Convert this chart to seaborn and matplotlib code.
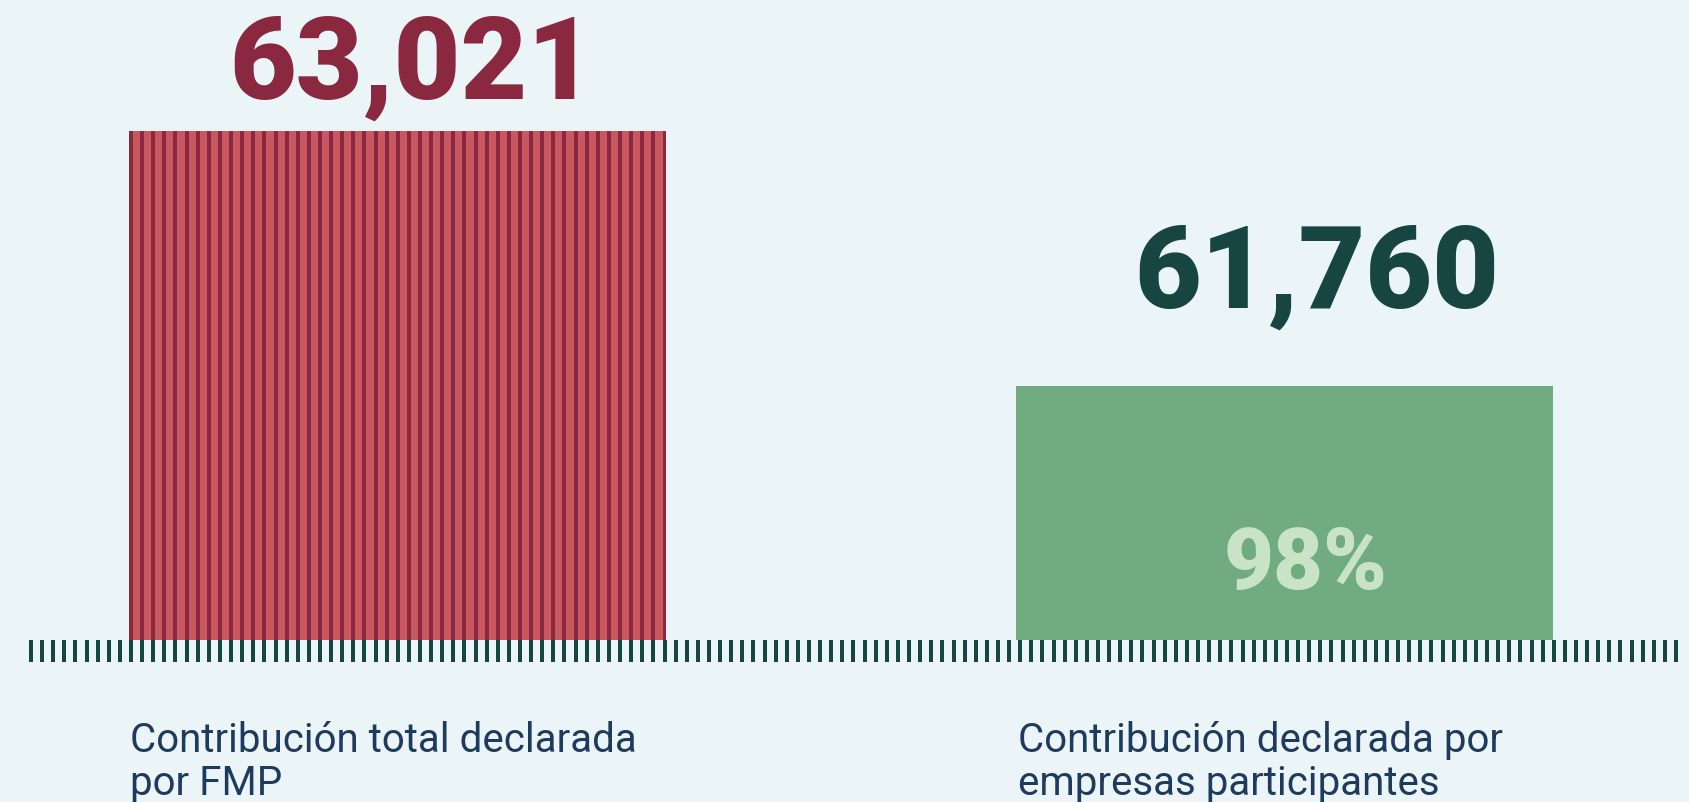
import numpy as np
import matplotlib
matplotlib.use("Agg")
import matplotlib.pyplot as plt
import matplotlib.transforms as mtransforms
import seaborn as sns

# Data
categories = ["Contribución total declarada\npor FMP",
              "Contribución declarada por\nempresas participantes"]
values = [63021, 61760]

# Styling
BG = "#EBF5F8"
RED_LIGHT = "#C85760"
RED_DARK = "#8A2840"
GREEN = "#70AC80"
GREEN_TEXT = "#C8E3C5"
TEAL = "#174541"
NAVY = "#1E3A5C"
bar_colors = [RED_LIGHT, GREEN]
value_colors = [RED_DARK, TEAL]

sns.set_theme(style="white")
plt.rcParams["font.family"] = ["Roboto", "DejaVu Sans"]

W, H, DPI = 1689, 802, 100
PT = 72 / DPI  # points per pixel
fig = plt.figure(figsize=(W / DPI, H / DPI), dpi=DPI, facecolor=BG)
base_px = 640
ax = fig.add_axes([0, (H - base_px) / H, 1, base_px / H])
ax.set_facecolor(BG)

bar_width = 0.6054
sns.barplot(x=categories, y=values, hue=categories, palette=bar_colors,
            width=bar_width, legend=False, saturation=1, linewidth=0, ax=ax)

y_floor = 60500
ax.set_ylim(y_floor, 63670)
ax.set_xlim(-0.4481, 1.4560)

# Tick strip along the baseline
tick_pos = np.linspace(-0.41319, 1.44136, 149)
ax.set_xticks([0, 1])
ax.set_xticklabels([])
ax.set_xticks(tick_pos, minor=True)
ax.tick_params(axis="x", which="major", length=0)
ax.tick_params(axis="x", which="minor", bottom=True, direction="out",
               length=22 * PT, width=4 * PT, color=TEAL)
ax.set_yticks([])
for s in ax.spines.values():
    s.set_visible(False)

# Vertical stripes over the first bar
patches = ax.patches
p0 = patches[0]
x0, x1 = p0.get_x(), p0.get_x() + p0.get_width()
sx = tick_pos[(tick_pos >= x0 - 0.003) & (tick_pos <= x1 + 0.003)]
lines = ax.vlines(sx, y_floor, values[0], colors=RED_DARK,
                  linewidth=4 * PT, zorder=3)
lines.set_clip_path(p0)

# Value labels above the bars
label_gap_pt = [32 * PT, 78 * PT]
label_dx_pt = [14 * PT, 32 * PT]
for i, v in enumerate(values):
    p = patches[i]
    cx = p.get_x() + p.get_width() / 2
    ax.annotate(f"{v:,}", xy=(cx, v), xytext=(label_dx_pt[i], label_gap_pt[i]),
                textcoords="offset points", ha="center", va="baseline",
                fontsize=83, fontweight="black", color=value_colors[i],
                annotation_clip=False)

# Share inside the second bar
share = round(100 * values[1] / values[0])
p1 = patches[1]
ax.annotate(f"{share}%", xy=(p1.get_x() + p1.get_width() / 2, y_floor),
            xytext=(21 * PT, 51 * PT), textcoords="offset points",
            ha="center", va="baseline", fontsize=62, fontweight="black",
            color=GREEN_TEXT, zorder=4)

# Category labels below the tick strip
trans = mtransforms.blended_transform_factory(ax.transData, fig.transFigure)
for i, cat in enumerate(categories):
    p = patches[i]
    ax.text(p.get_x() + 1.5 / 887, (H - 795) / H, cat, transform=trans,
            ha="left", va="baseline", fontsize=29, fontweight="normal",
            color=NAVY, linespacing=1.12, clip_on=False)

fig.savefig("out.png", dpi=DPI, facecolor=BG)
